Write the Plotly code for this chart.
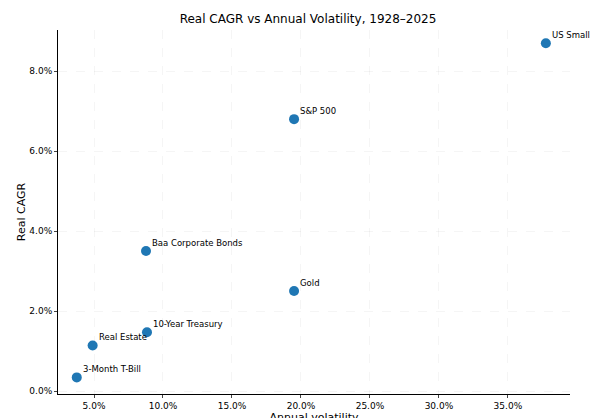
import plotly.graph_objects as go

assets = ["US Small Cap", "S&P 500", "Baa Corporate Bonds", "Gold",
          "10-Year Treasury", "Real Estate", "3-Month T-Bill"]
volatility = [0.3775, 0.1950, 0.0877, 0.1950, 0.0884, 0.0490, 0.0375]
real_cagr = [0.0870, 0.0680, 0.0350, 0.0250, 0.0147, 0.0114, 0.0034]

fig = go.Figure()
fig.add_trace(go.Scatter(
    x=volatility, y=real_cagr, mode="markers",
    marker=dict(size=10, color="#1f77b4"),
    cliponaxis=False, showlegend=False))

for name, vx, vy in zip(assets, volatility, real_cagr):
    fig.add_annotation(x=vx, y=vy, text=name, showarrow=False,
                       xanchor="left", yanchor="bottom", xshift=4, yshift=1,
                       font=dict(size=8.5, color="black"))

fig.update_layout(
    width=600, height=418,
    margin=dict(l=50, r=38, t=22, b=32, autoexpand=False),
    paper_bgcolor="white", plot_bgcolor="white",
    font=dict(family="DejaVu Sans", size=9, color="black"),
    title=dict(text="Real CAGR vs Annual Volatility, 1928–2025",
               x=0.5, y=0.985, font=dict(size=12)),
)
fig.update_xaxes(
    title=dict(text="Annual volatility", standoff=1),
    range=[0.0239, 0.395], tickvals=[0.05, 0.10, 0.15, 0.20, 0.25, 0.30, 0.35],
    tickformat=".1%", showline=True, linecolor="black", ticks="outside",
    ticklen=3, showgrid=True, gridcolor="rgba(0,0,0,0.04)", griddash="dash",
    zeroline=False, automargin=False)
fig.update_yaxes(
    title=dict(text="Real CAGR", standoff=1),
    range=[-0.00075, 0.0903], tickvals=[0, 0.02, 0.04, 0.06, 0.08],
    tickformat=".1%", showline=True, linecolor="black", ticks="outside",
    ticklen=3, showgrid=True, gridcolor="rgba(0,0,0,0.04)", griddash="dash",
    zeroline=False, automargin=False)

fig.write_html("out.html")
